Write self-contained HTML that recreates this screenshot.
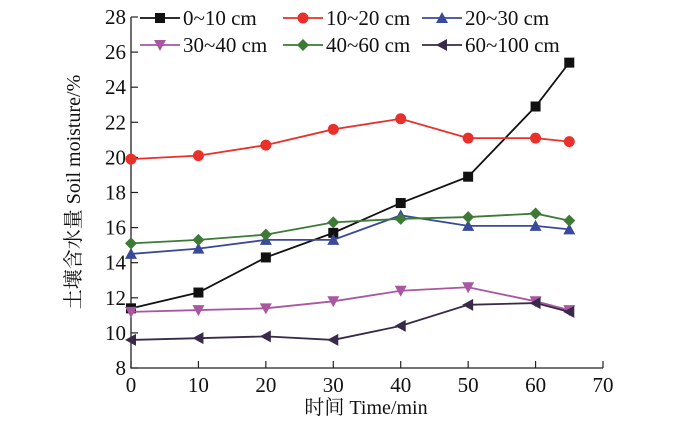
<!DOCTYPE html>
<html><head><meta charset="utf-8"><style>
body{margin:0;background:#fff;}
svg text{font-family:"Liberation Serif","Noto Serif CJK SC",serif;fill:#111;}
</style></head><body>
<svg id="c" width="700" height="422"></svg>
<script>
const xVals=[0,10,20,30,40,50,60,65];
const names=["0~10 cm","10~20 cm","20~30 cm","30~40 cm","40~60 cm","60~100 cm"];
const s0=[11.4,12.3,14.3,15.7,17.4,18.9,22.9,25.4];
const s1=[19.9,20.1,20.7,21.6,22.2,21.1,21.1,20.9];
const s2=[14.5,14.8,15.3,15.3,16.7,16.1,16.1,15.9];
const s3=[11.2,11.3,11.4,11.8,12.4,12.6,11.8,11.3];
const s4=[15.1,15.3,15.6,16.3,16.5,16.6,16.8,16.4];
const s5=[9.6,9.7,9.8,9.6,10.4,11.6,11.7,11.2];
const xTicks=[0,10,20,30,40,50,60,70];
const yTicks=[8,10,12,14,16,18,20,22,24,26,28];
const series=[s0,s1,s2,s3,s4,s5];
const colors=["#111111","#e8312a","#3a4a9a","#a857a0","#3d7a35","#3a2a4a"];
const markers=["square","circle","up","down","diamond","left"];
const NS="http://www.w3.org/2000/svg";
const svg=document.getElementById('c');
const X=v=>131+(v/70)*472;
const Y=v=>368-(v-8)/20*351;
function el(t,a,p){const e=document.createElementNS(NS,t);for(const k in a)e.setAttribute(k,a[k]);(p||svg).appendChild(e);return e;}
const ax=el('path',{d:`M${X(0)},${Y(28)}V${Y(8)}H${X(70)}`,stroke:'#222','stroke-width':1.3,fill:'none'});


yTicks.forEach(v=>{
  el('line',{x1:X(0),x2:X(0)+7,y1:Y(v),y2:Y(v),stroke:'#222','stroke-width':1.2});
  const t=el('text',{x:X(0)-5,y:Y(v)+7,'text-anchor':'end','font-size':21});t.textContent=v;
  
  
});
xTicks.forEach(v=>{
  el('line',{x1:X(v),x2:X(v),y1:Y(8),y2:Y(8)-7,stroke:'#222','stroke-width':1.2});
  const t=el('text',{x:X(v),y:Y(8)+24,'text-anchor':'middle','font-size':21});t.textContent=v;
  
  
});
const xt=el('text',{x:366,y:414,'text-anchor':'middle','font-size':20});xt.textContent='时间 Time/min';


const yt=el('text',{x:0,y:0,'text-anchor':'middle','font-size':20,transform:'translate(80,192) rotate(-90)'});yt.textContent='土壤含水量 Soil moisture/%';


function marker(type,x,y,c,g){
  const r=5;
  if(type==='square')return el('rect',{x:x-r,y:y-r,width:2*r,height:2*r,fill:c},g);
  if(type==='circle')return el('circle',{cx:x,cy:y,r:r+0.5,fill:c},g);
  if(type==='up')return el('polygon',{points:`${x},${y-r-1} ${x-r-1},${y+r} ${x+r+1},${y+r}`,fill:c},g);
  if(type==='down')return el('polygon',{points:`${x},${y+r+1} ${x-r-1},${y-r} ${x+r+1},${y-r}`,fill:c},g);
  if(type==='diamond')return el('polygon',{points:`${x},${y-r-1} ${x+r+1},${y} ${x},${y+r+1} ${x-r-1},${y}`,fill:c},g);
  return el('polygon',{points:`${x-r-1},${y} ${x+r},${y-r-1} ${x+r},${y+r+1}`,fill:c},g);
}
series.forEach((s,i)=>{
  const g=el('g',{});
  
  
  el('polyline',{points:s.map((v,j)=>X(xVals[j])+','+Y(v)).join(' '),fill:'none',stroke:colors[i],'stroke-width':1.8},g);
  s.forEach((v,j)=>{const m=marker(markers[i],X(xVals[j]),Y(v),colors[i],g);
    
    });
});
const lx=[140,283,422],ly=[18,45];
names.forEach((n,i)=>{
  const x=lx[i%3],y=ly[Math.floor(i/3)];
  const g=el('g',{});
  
  
  el('line',{x1:x,x2:x+40,y1:y,y2:y,stroke:colors[i],'stroke-width':1.8},g);
  marker(markers[i],x+20,y,colors[i],g);
  const t=el('text',{x:x+43,y:y+7,'font-size':21},g);t.textContent=n;
});
</script>
</body></html>
